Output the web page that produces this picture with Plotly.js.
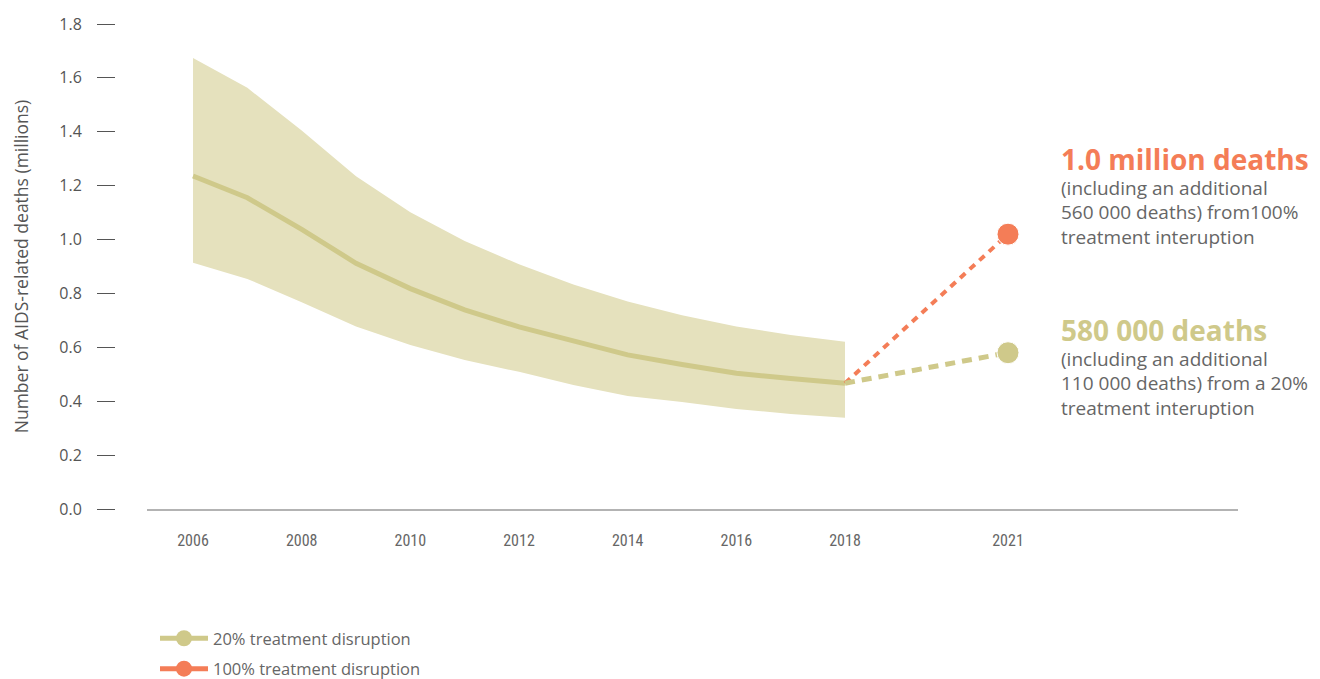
<!DOCTYPE html>
<html>
<head>
<meta charset="utf-8">
<script src="https://cdn.plot.ly/plotly-3.0.1.min.js"></script>
<style>
  html, body { margin: 0; padding: 0; background: #ffffff; }
  #chart { width: 1320px; height: 679px; }
</style>
</head>
<body>
<div id="chart"></div>
<script>
// ---- Data (millions of AIDS-related deaths) ----
const years = [2006, 2007, 2008, 2009, 2010, 2011, 2012, 2013, 2014, 2015, 2016, 2017, 2018];
const deathsEstimate = [1.236, 1.155, 1.038, 0.912, 0.818, 0.739, 0.676, 0.622, 0.572, 0.536, 0.504, 0.484, 0.467];
const deathsUpper    = [1.674, 1.563, 1.405, 1.235, 1.101, 0.995, 0.908, 0.833, 0.770, 0.719, 0.677, 0.646, 0.621];
const deathsLower    = [0.914, 0.854, 0.767, 0.677, 0.609, 0.553, 0.509, 0.460, 0.419, 0.397, 0.371, 0.353, 0.339];

const projectionYears = [2018, 2021];
const projection20  = [0.467, 0.58];
const projection100 = [0.467, 1.02];

const xTickValues = [2006, 2008, 2010, 2012, 2014, 2016, 2018, 2021];
const xTickLabels = ['2006', '2008', '2010', '2012', '2014', '2016', '2018', '2021'];
const yTickValues = [0, 0.2, 0.4, 0.6, 0.8, 1.0, 1.2, 1.4, 1.6, 1.8];
const yTickLabels = ['0.0', '0.2', '0.4', '0.6', '0.8', '1.0', '1.2', '1.4', '1.6', '1.8'];

const seriesNames = ['20% treatment disruption', '100% treatment disruption'];

// ---- Styles ----
const OLIVE = '#cfc98a';
const BAND = '#e5e1bd';
const ORANGE = '#f47d57';
const GREY_TEXT = '#666666';
const FONT = '"Open Sans", Lato, sans-serif';
const NARROW = '"Roboto Condensed", "DejaVu Sans Condensed", "Liberation Sans Narrow", "Open Sans", sans-serif';

const traces = [
  { // lower bound (anchor for fill)
    x: years, y: deathsLower, type: 'scatter', mode: 'lines',
    line: { width: 0, color: BAND }, showlegend: false, hoverinfo: 'skip'
  },
  { // upper bound, filled to the lower bound
    x: years, y: deathsUpper, type: 'scatter', mode: 'lines',
    fill: 'tonexty', fillcolor: BAND,
    line: { width: 0, color: BAND }, showlegend: false, hoverinfo: 'skip'
  },
  { // central estimate
    x: years, y: deathsEstimate, type: 'scatter', mode: 'lines',
    line: { color: OLIVE, width: 5 }, showlegend: false
  },
  { // 100% projection
    x: projectionYears, y: projection100, type: 'scatter', mode: 'lines+markers',
    line: { color: ORANGE, width: 4, dash: '7px,6px' },
    marker: { color: ORANGE, size: [0, 22], opacity: 1 },
    showlegend: false
  },
  { // 20% projection
    x: projectionYears, y: projection20, type: 'scatter', mode: 'lines+markers',
    line: { color: OLIVE, width: 5, dash: '10px,7px' },
    marker: { color: OLIVE, size: [0, 22], opacity: 1 },
    showlegend: false
  },
  { // legend entries
    x: [null], y: [null], type: 'scatter', mode: 'lines+markers', name: seriesNames[0],
    legendgroup: 'a',
    line: { color: OLIVE, width: 5 }, marker: { color: OLIVE, size: 20 }
  },
  {
    x: [null], y: [null], type: 'scatter', mode: 'lines+markers', name: seriesNames[1],
    legendgroup: 'b',
    line: { color: ORANGE, width: 5 }, marker: { color: ORANGE, size: 20 }
  }
];

const L = 115, R = 82, T = 24, B = 170;
const plotW = 1320 - L - R;
const plotH = 679 - T - B;
const px = v => (v - L) / plotW;
const py = v => (679 - B - v) / plotH;

const layout = {
  width: 1320, height: 679,
  margin: { l: L, r: R, t: T, b: B, pad: 0, autoexpand: false },
  paper_bgcolor: '#ffffff', plot_bgcolor: '#ffffff',
  font: { family: FONT, color: GREY_TEXT, size: 16 },
  showlegend: true,
  xaxis: {
    domain: [px(147), 1],
    range: [2005.153, 2025.233],
    tickvals: xTickValues, ticktext: xTickLabels,
    tickfont: { family: NARROW, size: 16, color: '#666666' },
    ticks: '', showgrid: false, zeroline: false,
    showline: true, linecolor: '#b3b3b3', linewidth: 2,
    ticklabelstandoff: 16, fixedrange: true, automargin: false
  },
  yaxis: {
    range: [0, 1.8], anchor: 'free', position: 0,
    tickvals: yTickValues, ticktext: yTickLabels,
    tickfont: { family: FONT, size: 16, color: '#555555' },
    ticks: 'outside', ticklen: 18, tickwidth: 1, tickcolor: '#555555',
    ticklabelstandoff: 12,
    showgrid: false, zeroline: false, showline: false,
    title: { text: 'Number of AIDS-related deaths (millions)', font: { family: FONT, size: 17.5, color: '#555555' }, standoff: 25 },
    fixedrange: true, automargin: false
  },
  legend: {
    x: px(155), xanchor: 'left', y: py(621), yanchor: 'top',
    orientation: 'v', font: { family: FONT, size: 16.5, color: GREY_TEXT },
    traceorder: 'grouped', itemwidth: 48, tracegroupgap: 6, bgcolor: 'rgba(0,0,0,0)'
  },
  annotations: [
    {
      xref: 'paper', yref: 'paper', x: px(1059), y: py(138), xanchor: 'left', yanchor: 'top',
      text: '<span style="font-size:28px;font-weight:bold;color:' + ORANGE + '">1.0 million deaths</span>' +
            '<br>(including an additional<br>560 000 deaths) from100%<br>treatment interuption',
      showarrow: false, align: 'left',
      font: { family: FONT, size: 19, color: GREY_TEXT }
    },
    {
      xref: 'paper', yref: 'paper', x: px(1059), y: py(309), xanchor: 'left', yanchor: 'top',
      text: '<span style="font-size:28px;font-weight:bold;color:' + OLIVE + '">580 000 deaths</span>' +
            '<br>(including an additional<br>110 000 deaths) from a 20%<br>treatment interuption',
      showarrow: false, align: 'left',
      font: { family: FONT, size: 19, color: GREY_TEXT }
    }
  ]
};

Plotly.newPlot('chart', traces, layout, { staticPlot: true, displayModeBar: false });
</script>
</body>
</html>
